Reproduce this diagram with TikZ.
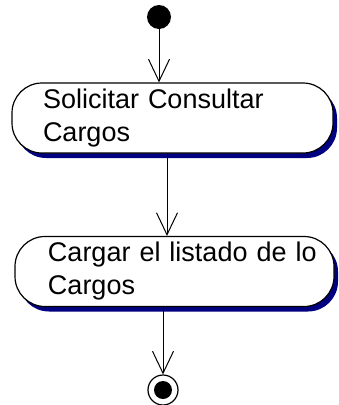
\documentclass[tikz,border=0pt]{standalone}
\usepackage{fontspec}
\setmainfont{Liberation Sans}
\usepackage{tikz}
\usetikzlibrary{arrows.meta, shadows}
\definecolor{shadownavy}{RGB}{0,0,128}

\begin{document}
\begin{tikzpicture}[
    x=1pt, y=-1pt,
    act/.style={draw, rectangle, rounded corners=30pt, line width=1.2pt,
      minimum height=70pt, align=left, fill=white,
      font=\fontsize{27pt}{33pt}\selectfont,
      drop shadow={shadow xshift=4pt, shadow yshift=-5pt, fill=shadownavy, opacity=1}},
    initial/.style={circle, fill=black, inner sep=0pt, minimum size=24pt},
    final/.style={circle, draw, line width=1.2pt, inner sep=0pt, minimum size=30pt},
    flow/.style={line width=1pt, -{Straight Barb[length=22pt, width=21pt]}}
]
\useasboundingbox (0,0) rectangle (338,405);

\node[initial] (start) at (159,17) {};
\node[act, text width=259pt, inner xsep=31pt] (act1) at (172.5,118) {Solicitar Consultar\\Cargos};
\node[act, text width=253pt, inner xsep=33pt] (act2) at (174.5,271.5) {\mbox{Cargar el listado de lo}\\Cargos};
\node[final] (end) at (163,390) {};
\fill (end.center) circle[radius=9pt];

\draw[flow] (start) -- (start |- act1.north);
\draw[flow] ([xshift=-5.5pt]act1.south) -- ([xshift=-5.5pt]act1.south |- act2.north);
\draw[flow] (act2.south -| end) -- (end);
\end{tikzpicture}
\end{document}
